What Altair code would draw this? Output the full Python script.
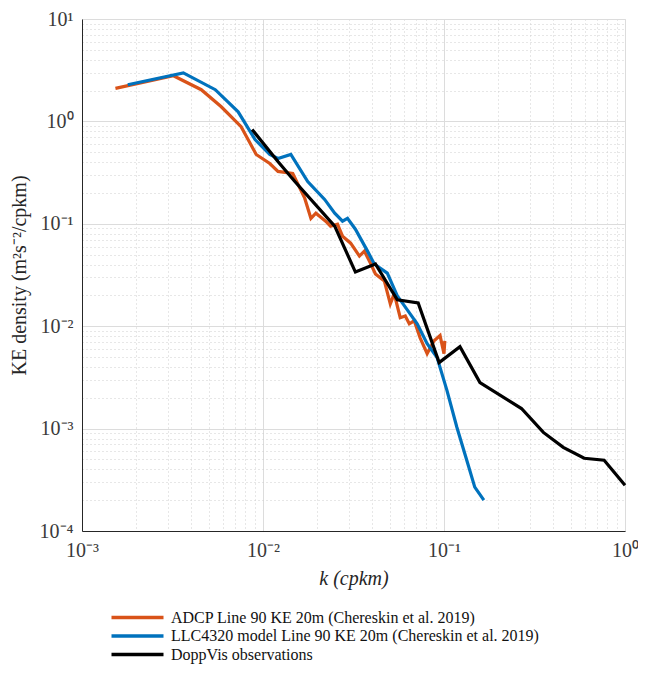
import altair as alt
import pandas as pd

# ---- data (k in cpkm, E in m^2 s^-2 / cpkm) ----
adcp_k = [0.00153, 0.00320, 0.00456, 0.00588, 0.00757, 0.00917, 0.0109, 0.0121, 0.0146,
          0.0170, 0.0184, 0.0196, 0.0222, 0.0236, 0.0258, 0.0275, 0.0305, 0.0341, 0.0363,
          0.0392, 0.0418, 0.0468, 0.0505, 0.0531, 0.0573, 0.0611, 0.0643, 0.0685, 0.0738,
          0.0807, 0.0881, 0.0951, 0.1000, 0.101]
adcp_e = [2.10, 2.79, 2.04, 1.39, 0.889, 0.475, 0.388, 0.325, 0.310,
          0.178, 0.113, 0.127, 0.106, 0.0948, 0.0991, 0.0757, 0.0647, 0.0484, 0.0541,
          0.0414, 0.0324, 0.0277, 0.0165, 0.0207, 0.0121, 0.0126, 0.01055, 0.0113, 0.0077,
          0.0054, 0.0072, 0.0081, 0.0054, 0.0072]

llc_k = [0.00179, 0.00363, 0.00545, 0.00729, 0.00904, 0.0109, 0.0121, 0.01425, 0.01766,
         0.0219, 0.0249, 0.0275, 0.0293, 0.0324, 0.0378, 0.0412, 0.0486, 0.0552, 0.0650,
         0.0711, 0.0807, 0.0916, 0.1038, 0.1178, 0.1336, 0.1479, 0.166]
llc_e = [2.28, 2.98, 2.04, 1.24, 0.665, 0.475, 0.435, 0.475, 0.259,
         0.173, 0.127, 0.106, 0.113, 0.0885, 0.0541, 0.0405, 0.0330, 0.0198, 0.0132,
         0.01055, 0.00675, 0.00493, 0.00236, 0.00103, 0.000491, 0.000268, 0.000200]

dopp_k = [0.00871, 0.01209, 0.0150, 0.0249, 0.0324, 0.0418, 0.0552, 0.0720, 0.0940,
          0.1225, 0.158, 0.268, 0.354, 0.456, 0.595, 0.767, 1.0]
dopp_e = [0.832, 0.406, 0.259, 0.0948, 0.0338, 0.0405, 0.0181, 0.0169, 0.00441,
          0.00631, 0.00281, 0.00157, 0.000918, 0.000656, 0.000513, 0.000491, 0.000280]

series_names = ["ADCP Line 90 KE 20m (Chereskin et al. 2019)",
                "LLC4320 model Line 90 KE 20m (Chereskin et al. 2019)",
                "DoppVis observations"]
series_colors = ["#D95319", "#0072BD", "#000000"]

x_decades = [1e-3, 1e-2, 1e-1]
y_decades = [1e-4, 1e-3, 1e-2, 1e-1, 1e0]
mantissas = [1, 2, 3, 4, 5, 6, 7, 8, 9]
x_tick_values = [m * d for d in x_decades for m in mantissas] + [1.0]
y_tick_values = [m * d for d in y_decades for m in mantissas] + [10.0]

frames = []
for name, ks, es in zip(series_names, [adcp_k, llc_k, dopp_k], [adcp_e, llc_e, dopp_e]):
    frames.append(pd.DataFrame({"series": name, "k": ks, "E": es, "i": range(len(ks))}))
df = pd.concat(frames, ignore_index=True)

FONT = "Liberation Serif"
is_major = "abs(log(datum.value)/LN10 - round(log(datum.value)/LN10)) < 0.001"
sup = ("replace(replace(replace(replace(replace(replace(''+round(log(datum.value)/LN10),"
       " '-', '⁻'), '0', '⁰'), '1', '¹'), '2', '²'), '3', '³'), '4', '⁴')")
label_expr = f"({is_major}) ? '10' + {sup} : ''"

grid_dash = {"condition": {"test": is_major, "value": []}, "value": [1, 3]}
grid_color = {"condition": {"test": is_major, "value": "#dcdcdc"}, "value": "#cfcfcf"}


def make_axis(values, title, title_style, title_pad):
    return alt.Axis(
        values=values, labelExpr=label_expr, labelOverlap=False, labelFlush=False,
        grid=True, gridDash=grid_dash, gridColor=grid_color, gridWidth=1,
        ticks=False, domain=True, domainColor="#262626", domainWidth=1,
        labelFont=FONT, labelFontSize=20, labelColor="#3a3a3a", labelPadding=9,
        title=title, titleFont=FONT, titleFontSize=20, titleFontWeight="normal",
        titleFontStyle=title_style, titleColor="#262626", titlePadding=title_pad,
    )


color = alt.Color(
    "series:N",
    scale=alt.Scale(domain=series_names, range=series_colors),
    legend=alt.Legend(
        title=None, orient="none", legendX=47, legendY=590, direction="vertical",
        symbolType="M-4,0H4", symbolSize=169, symbolStrokeWidth=3.5,
        labelFont=FONT, labelFontSize=16, labelColor="#111111", labelLimit=600,
        rowPadding=1.5, labelOffset=25,
    ),
)

x_enc = alt.X("k:Q", scale=alt.Scale(type="log", domain=[1e-3, 1]),
              axis=make_axis(x_tick_values, "k (cpkm)", "italic", 8))
y_enc = alt.Y("E:Q", scale=alt.Scale(type="log", domain=[1e-4, 10]),
              axis=make_axis(y_tick_values, "KE density (m²s⁻²/cpkm)", "normal", 10))

layers = []
for name in series_names:
    layers.append(
        alt.Chart(df).transform_filter(alt.datum.series == name)
        .mark_line(strokeWidth=3.2, strokeJoin="miter")
        .encode(x=x_enc, y=y_enc, color=color, order="i:Q")
    )

chart = alt.layer(*layers).properties(
    width=543, height=512,
    autosize=alt.AutoSizeParams(type="none"),
    padding={"left": 74, "top": 11, "right": 13, "bottom": 133},
).configure_view(stroke=None).configure(background="white")

chart.save("out.html", embed_options={"renderer": "svg", "actions": False})
